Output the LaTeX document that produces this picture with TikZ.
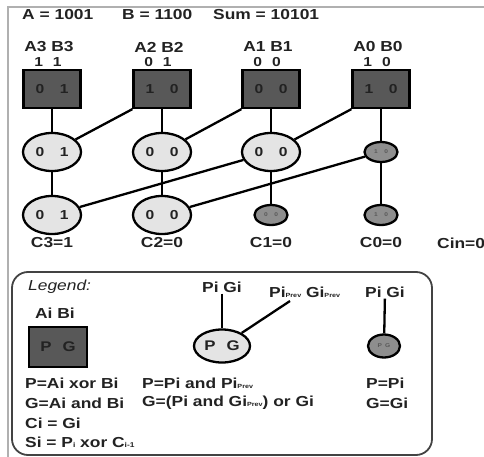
\documentclass[tikz,border=0pt]{standalone}
\usepackage{fontspec}
\setmainfont[FakeStretch=1.2]{Liberation Sans}
\usetikzlibrary{shapes.geometric}
\definecolor{ink}{HTML}{222222}
\definecolor{cellgray}{HTML}{585858}
\definecolor{bigfill}{HTML}{E4E4E4}
\definecolor{smallfill}{HTML}{8E8E8E}
\definecolor{framegray}{HTML}{B0B0B0}
\newcommand{\fs}[1]{\fontsize{#1}{#1}\selectfont}
\newcommand{\bitpair}[2]{#1\hspace{1.2em}#2}
\newcommand{\prv}{{\fs{6}Prev}}
\newcommand{\lowsub}[1]{{\fs{7}#1}}

\begin{document}
\begin{tikzpicture}[x=1pt,y=-1pt,font=\bfseries\fs{14.5},text=ink,inner sep=1pt,
  cell/.style={draw=black,line width=2.3pt,fill=cellgray,minimum width=57pt,minimum height=38pt,inner sep=0pt,font=\bfseries\fs{13}},
  bigE/.style={draw=black,line width=2.3pt,ellipse,fill=bigfill,minimum width=58pt,minimum height=38pt,inner sep=0pt,font=\bfseries\fs{13}},
  smallE/.style={draw=black,line width=2.3pt,ellipse,fill=smallfill,minimum width=33pt,minimum height=20pt,inner sep=0pt,font=\bfseries\fs{5.5},text=ink!75},
  wire/.style={line width=2.3pt}]
\useasboundingbox (0,0) rectangle (484,457);
\draw[framegray,line width=1.2pt] (8,457) -- (8,7) -- (484,7);
\node[anchor=west] (numA) at (21,15) {A = 1001};
\node[anchor=west] (numB) at (121,15) {B = 1100};
\node[anchor=west] (sum) at (212,15) {Sum = 10101};
\foreach \i/\x/\a/\b/\p/\g in {3/52/1/1/0/1,2/162/0/1/1/0,1/271/0/0/0/0,0/381/1/0/1/0}{
  \node (AB\i) at (\x-3,47) {A\i\ B\i};
  \node[font=\bfseries\fs{13}] (ab\i) at (\x-4,62) {\a\hspace{10pt}\b};
  \node[cell] (PG\i) at (\x,89) {\bitpair{\p}{\g}};
}
% group P/G
\node[bigE] (U3) at (52,152) {\bitpair01};
\node[bigE] (U2) at (162,152) {\bitpair00};
\node[bigE] (U1) at (271,152) {\bitpair00};
\node[smallE] (U0) at (381,152) {\bitpair10};
\node[bigE] (L3) at (52,215) {\bitpair01};
\node[bigE] (L2) at (162,215) {\bitpair00};
\node[smallE] (L1) at (271,215) {\bitpair00};
\node[smallE] (L0) at (381,215) {\bitpair10};
\foreach \i/\x/\v in {3/52/1,2/162/0,1/271/0,0/381/0}
  \node (C\i) at (\x,243) {C\i=\v};
\node[anchor=west] (Cin) at (436,243) {Cin=0};
\foreach \i in {0,...,3}{
  \draw[wire] (PG\i) -- (U\i);
  \draw[wire] (U\i) -- (L\i);
}
\foreach \i/\j in {2/3,1/2,0/1}
  \draw[wire] (PG\i.south west) -- (U\j);
\draw[wire] (U1) -- (L3);
\draw[wire] (U0) -- (L2);
% legend
\draw[draw=ink!85,line width=1.8pt,rounded corners=16pt] (12,272) rectangle (432,455);
\node[anchor=west,font=\mdseries\itshape\fs{14.5}] (lgTitle) at (27,287) {Legend:};
\node (lgAB) at (55,313) {Ai Bi};
\node[cell,minimum width=58pt,minimum height=40pt,font=\bfseries\fs{14}] (lgPG) at (58,347) {P\hspace{0.8em}G};
\node[anchor=west] (lgP1) at (24,383) {P=Ai xor Bi};
\node[anchor=west] (lgG1) at (24,403) {G=Ai and Bi};
\node[anchor=west] (lgC) at (24,423) {Ci = Gi};
\node[anchor=west] (lgS) at (24,442) {Si = P\lowsub{i} xor C\lowsub{i-1}};
\node (lgPGm) at (222,287) {Pi Gi};
\node[anchor=west] (lgPrev) at (268,292) {Pi\prv{} Gi\prv};
\coordinate (lgTip) at (290,301);
\node[bigE,minimum width=56pt,minimum height=33pt,font=\bfseries\fs{14}] (lgE) at (222,346) {P\hspace{0.8em}G};
\draw[wire] (lgPGm) -- (lgE);
\draw[wire] (lgTip) -- (lgE);
\node (lgPGr) at (385,292) {Pi Gi};
\node[smallE,minimum width=32pt,minimum height=23pt] (lgSE) at (384,346) {P\hspace{3pt}G};
\draw[wire] (lgPGr) -- (lgSE);
\node[anchor=west] (lgP2) at (141,383) {P=Pi and Pi\prv};
\node[anchor=west] (lgG2) at (141,403) {G=(Pi and Gi\prv) or Gi};
\node[anchor=west] (lgP3) at (365,383) {P=Pi};
\node[anchor=west] (lgG3) at (365,403) {G=Gi};
\end{tikzpicture}
\end{document}
